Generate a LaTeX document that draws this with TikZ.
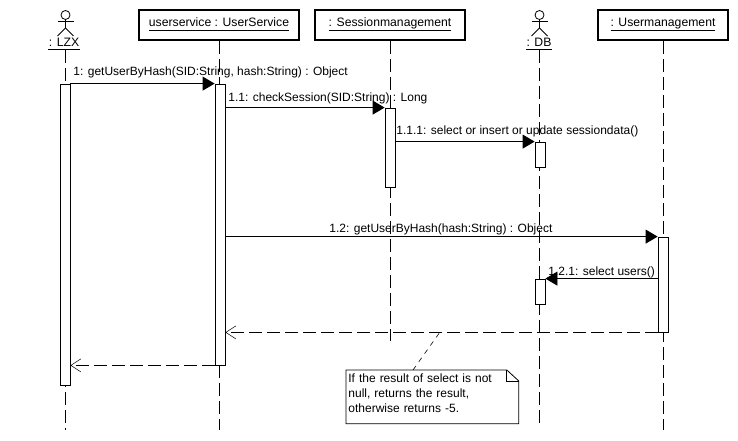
\documentclass[tikz,border=0pt]{standalone}
\usepackage{fontspec}
\setmainfont{Liberation Sans}
\usetikzlibrary{arrows.meta}
\newcommand{\objname}[1]{\underline{\smash{#1}\rule[-2.5pt]{0pt}{2.5pt}}}
\tikzset{
	objbox/.style={draw, line width=1.6pt, minimum height=30pt, inner sep=0pt, text height=8pt, text depth=5pt, font=\fontsize{12.2}{14}\selectfont},
	actorlabel/.style={minimum height=14pt, inner sep=0pt, font=\fontsize{12.2}{14}\selectfont},
	lifeline/.style={dash pattern=on 13pt off 5pt},
	activation/.style={draw, fill=white, minimum width=10pt, inner sep=0pt},
	msglabel/.style={anchor=base west, inner sep=0pt, font=\fontsize{12}{14}\selectfont},
	notebox/.style={anchor=north west, inner xsep=2pt, inner ysep=3pt, text width=168pt, minimum height=53pt, font=\fontsize{12}{15}\selectfont},
	call/.style={-{Triangle[length=12pt,width=14pt]}},
	reply/.style={dash pattern=on 13pt off 5pt, -{Straight Barb[length=10pt,width=13pt,line width=0.5pt]}},
	pics/stickman/.style={code={
		\draw (0,15) circle (4.5);
		\draw (0,19.5) -- (0,28) -- (-8,36);
		\draw (0,28) -- (8,36);
		\draw (-8,21) -- (8,21);
	}}
}
\begin{document}
\begin{tikzpicture}[x=1pt,y=-1pt,line width=0.8pt]
	\useasboundingbox (0,0) rectangle (738,441);
	\fill[white] (0,0) rectangle (738,441);

	\pic at (65.5,0) {stickman};
	\pic at (539.5,0) {stickman};
	\node[actorlabel,minimum width=28pt] (lzx) at (64,42.5) {: LZX};
	\node[actorlabel,minimum width=24pt] (db) at (539,42.5) {: DB};
	\draw (lzx.south west) -- (lzx.south east);
	\draw (db.south west) -- (db.south east);
	\node[objbox,minimum width=160pt] (userservice) at (219,25) {\objname{userservice : UserService}};
	\node[objbox,minimum width=150pt] (session) at (390,25) {\objname{: Sessionmanagement}};
	\node[objbox,minimum width=130pt] (usermgmt) at (663,25) {\objname{: Usermanagement}};

	\coordinate (lzxend) at (65,430);
	\coordinate (userserviceend) at (219.5,430);
	\coordinate (sessionend) at (390.5,341);
	\coordinate (dbend) at (539.5,423);
	\coordinate (usermgmtend) at (663,430);
	\draw[lifeline] (lzx.south -| lzxend) -- (lzxend);
	\draw[lifeline] (userservice.south -| userserviceend) -- (userserviceend);
	\draw[lifeline] (session.south -| sessionend) -- (sessionend);
	\draw[lifeline] (db.south -| dbend) -- (dbend);
	\draw[lifeline] (usermgmt.south -| usermgmtend) -- (usermgmtend);

	\node[activation,minimum height=301pt] (barlzx) at (65,234.5) {};
	\node[activation,minimum height=281pt] (baruser) at (220,224.5) {};
	\node[activation,minimum height=79pt] (barsession) at (390,147.5) {};
	\node[activation,minimum height=25pt] (bardbone) at (540,154.5) {};
	\node[activation,minimum height=25pt] (bardbtwo) at (540,291.5) {};
	\node[activation,minimum height=95pt] (barusermgmt) at (663,284.5) {};

	\draw[call] (barlzx.north east) -- (baruser.north west);
	\draw[call] (baruser.east |- barsession.north) -- (barsession.north west);
	\draw[call] (barsession.east |- bardbone.north) -- (bardbone.north west);
	\draw[call] (baruser.east |- barusermgmt.north) -- (barusermgmt.north west);
	\draw[call] (barusermgmt.west |- bardbtwo.north) -- (bardbtwo.north east);
	\draw[reply] (barusermgmt.south west) -- (baruser.east |- barusermgmt.south);
	\draw[reply] (baruser.south west) -- (barlzx.east |- baruser.south);

	\node[msglabel] (msgone) at (73,76) {1: getUserByHash(SID:String, hash:String) : Object};
	\node[msglabel] (msgtwo) at (228,102) {1.1: checkSession(SID:String) : Long};
	\node[msglabel] (msgthree) at (396,134) {1.1.1: select or insert or update sessiondata()};
	\node[msglabel] (msgfour) at (329,232) {1.2: getUserByHash(hash:String) : Object};
	\node[msglabel] (msgfive) at (548,275) {1.2.1: select users()};

	\node[notebox] (note) at (346,370) {If the result of select is not\\null, returns the result,\\otherwise returns -5.\rule[-8pt]{0pt}{8pt}};
	\draw (note.north west) -- ([xshift=-12pt]note.north east) -- ([yshift=-11pt]note.north east) -- (note.south east) -- (note.south west) -- cycle;
	\draw ([xshift=-12pt]note.north east) |- ([yshift=-11pt]note.north east);
	\coordinate (notelink) at (440,332);
	\draw[dash pattern=on 5pt off 5pt,line width=0.6pt] ([xshift=67pt]note.north west) -- (notelink);
\end{tikzpicture}
\end{document}
